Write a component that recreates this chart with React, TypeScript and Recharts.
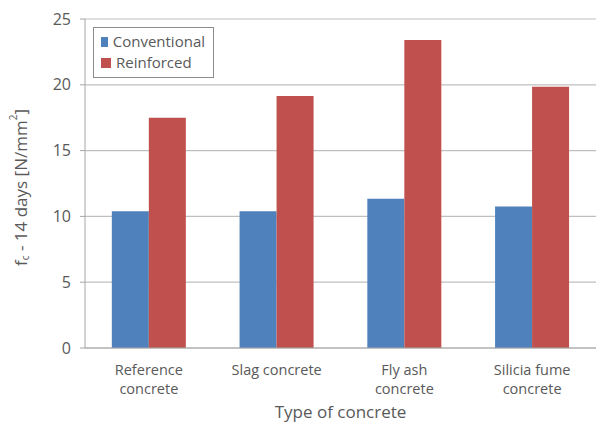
import { BarChart, Bar, XAxis, YAxis, CartesianGrid, Legend } from 'recharts';

const categories = ['Reference\nconcrete', 'Slag concrete', 'Fly ash\nconcrete', 'Silicia fume\nconcrete'];
const conventional = [10.4, 10.4, 11.35, 10.75];
const reinforced = [17.5, 19.15, 23.4, 19.85];
const yTicks = [0, 5, 10, 15, 20, 25];

const data = categories.map((name, i) => ({
  name,
  conventional: conventional[i],
  reinforced: reinforced[i],
}));

const FONT = '"Open Sans", "Noto Sans", sans-serif';
const TEXT = '#595959';
const BLUE = '#4f81bd';
const RED = '#c0504d';

const CategoryTick = ({ x, y, payload }: any) => {
  const lines = String(payload.value).split('\n');
  return (
    <g>
      {lines.map((l, i) => (
        <text
          key={i}
          x={x}
          y={y + 19 + i * 19}
          textAnchor="middle"
          fill={TEXT}
          fontSize={14.5}
          fontFamily={FONT}
        >
          {l}
        </text>
      ))}
    </g>
  );
};

const LegendBox = () => (
  <div
    style={{
      border: '1px solid #8c8c8c',
      background: '#fff',
      padding: '3px 8px 4px 7px',
      fontFamily: FONT,
      fontSize: 15,
      color: TEXT,
      lineHeight: '21px',
      width: 104,
      boxSizing: 'content-box',
    }}
  >
    {[
      ['Conventional', BLUE],
      ['Reinforced', RED],
    ].map(([label, c]) => (
      <div key={label} style={{ display: 'flex', alignItems: 'center', whiteSpace: 'nowrap' }}>
        <span style={{ width: 10, height: 10, background: c, marginRight: 5, display: 'inline-block' }} />
        {label}
      </div>
    ))}
  </div>
);

export default function App() {
  return (
    <div style={{ position: 'absolute', left: 0, top: 0, background: '#fff' }}>
      <BarChart
        width={596}
        height={422}
        data={data}
        margin={{ top: 19, right: 0, left: 0, bottom: 0 }}
        barCategoryGap="21%"
        barGap={0}
      >
        <CartesianGrid vertical={false} stroke="#bfbfbf" strokeWidth={1.2} />
        <XAxis
          dataKey="name"
          height={74}
          tickLine={false}
          axisLine={{ stroke: '#a6a6a6' }}
          tick={<CategoryTick />}
          interval={0}
          label={{
            value: 'Type of concrete',
            position: 'insideBottom',
            offset: 4,
            fill: TEXT,
            fontSize: 17,
            fontFamily: FONT,
          }}
        />
        <YAxis
          width={85}
          domain={[0, 25]}
          ticks={yTicks}
          tickSize={5}
          tickMargin={9}
          axisLine={{ stroke: '#a6a6a6' }}
          tickLine={{ stroke: '#a6a6a6' }}
          tick={{ fill: TEXT, fontSize: 16, fontFamily: FONT }}
          label={({ viewBox }: any) => {
            const cx = 20;
            const cy = viewBox.y + viewBox.height / 2 + 4;
            return (
              <text
                x={cx}
                y={cy}
                transform={`rotate(-90 ${cx} ${cy})`}
                textAnchor="middle"
                dominantBaseline="central"
                fill={TEXT}
                fontSize={17}
                fontFamily={FONT}
              >
                f<tspan fontSize={10} dy={5}>c</tspan>
                <tspan dy={-5}> - 14 days [N/mm</tspan>
                <tspan fontSize={10} dy={-7}>2</tspan>
                <tspan dy={7}>]</tspan>
              </text>
            );
          }}
        />
        <Legend
          content={<LegendBox />}
          layout="horizontal"
          verticalAlign="middle"
          align="center"
          wrapperStyle={{ position: 'absolute', top: 27, left: 93, width: 'auto' }}
        />
        <Bar dataKey="conventional" fill={BLUE} isAnimationActive={false} />
        <Bar dataKey="reinforced" fill={RED} isAnimationActive={false} />
      </BarChart>
    </div>
  );
}
